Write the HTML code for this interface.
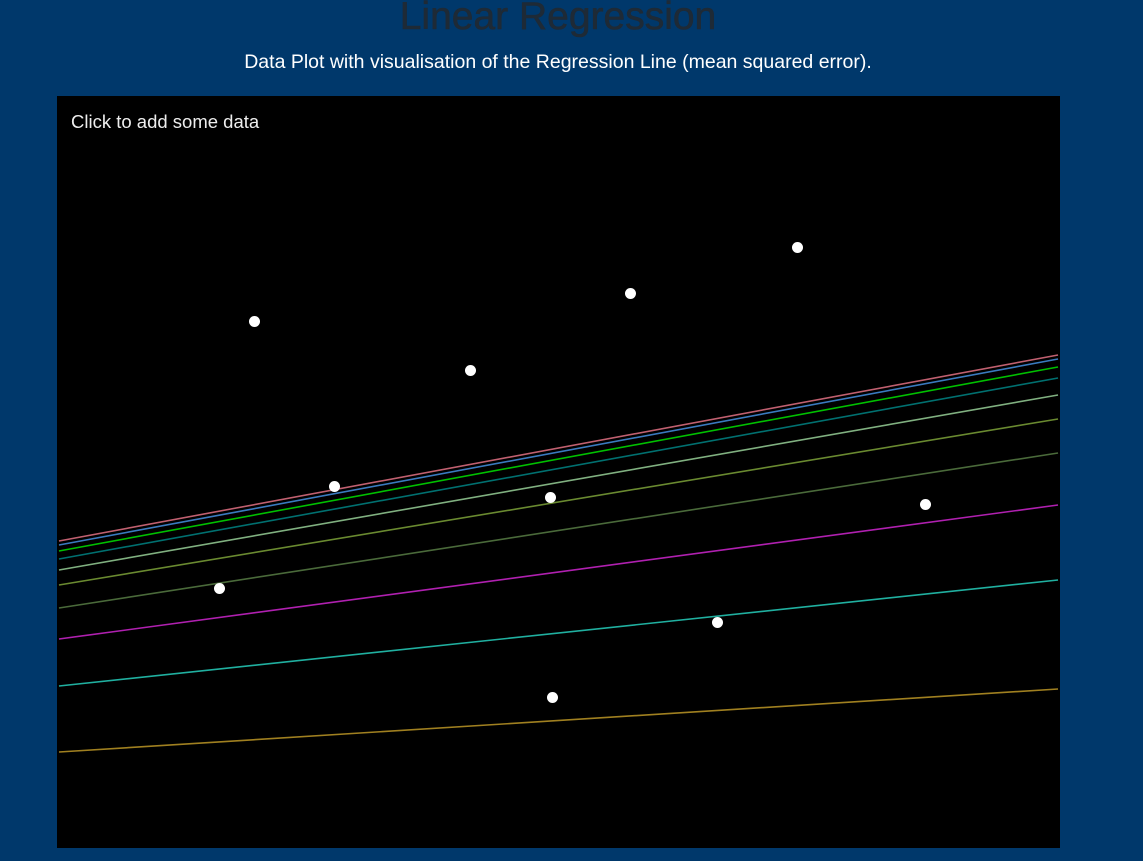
<!DOCTYPE html>
<html><head><meta charset="utf-8"><style>
body{margin:0;width:1143px;height:861px;background:#00386b;overflow:hidden;font-family:"Liberation Sans",sans-serif}
h1{position:absolute;left:0;width:1116px;top:-5px;margin:0;text-align:center;font-size:39px;font-weight:normal;color:#1e2a36;line-height:44px;-webkit-text-stroke:0.6px #1e2a36}
p{position:absolute;left:0;width:1116px;top:50px;margin:0;text-align:center;font-size:19.5px;color:#fff;line-height:24px}
#plot{position:absolute;left:57px;top:96px;width:1003px;height:752px;background:#000}
</style></head><body>
<h1>Linear Regression</h1>
<p>Data Plot with visualisation of the Regression Line (mean squared error).</p>
<svg id="plot" width="1003" height="752">
<text x="14" y="32" fill="#eee" font-size="18.5" font-family="Liberation Sans">Click to add some data</text>
</svg>
<script>
const pointsX=[254,630,797,470,334,550,925,219,717,552];
const pointsY=[321,293,247,370,486,497,504,588,622,697];
const lineStartY=[752,686,639,608,585,570,559,551,545,541];
const lineEndY=[689,580,505,453,419,395,378,367,359,355];
const lineColors=["#a08020","#20b0a0","#b020b0","#4a6a3a","#6a8a30","#80b080","#007070","#00c000","#3a7abf","#c06070"];
const X0=57,Y0=96;
const sx=v=>v-X0, sy=v=>v-Y0;
const svg=document.getElementById('plot');
const NS='http://www.w3.org/2000/svg';
lineStartY.forEach((y1,i)=>{
  const l=document.createElementNS(NS,'line');
  l.setAttribute('x1',sx(59));l.setAttribute('y1',sy(y1));
  l.setAttribute('x2',sx(1058));l.setAttribute('y2',sy(lineEndY[i]));
  l.setAttribute('stroke',lineColors[i]);l.setAttribute('stroke-width','1.6');
  
  
  svg.appendChild(l);
});
pointsX.forEach((x,i)=>{
  const c=document.createElementNS(NS,'circle');
  c.setAttribute('cx',sx(x)+0.5);c.setAttribute('cy',sy(pointsY[i])+0.5);c.setAttribute('r','5.5');c.setAttribute('fill','#fff');
  
  
  svg.appendChild(c);
});
</script>
</body></html>
